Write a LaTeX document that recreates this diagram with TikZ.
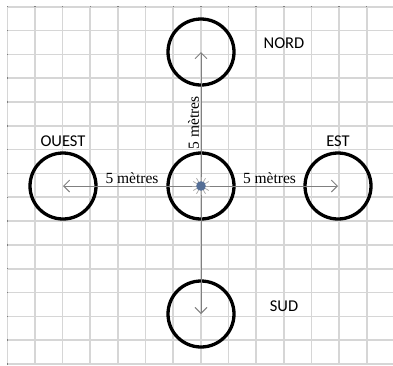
\documentclass[tikz,border=0pt]{standalone}
\usepackage{fontspec}
\setmainfont{Liberation Serif}
\newfontfamily\calibri{Carlito}
\usetikzlibrary{arrows.meta,positioning}
\definecolor{gridgris}{RGB}{214,214,214}
\definecolor{flechegris}{RGB}{128,128,128}
\definecolor{pointbleu}{RGB}{84,110,150}
\tikzset{
  cercle/.style={draw=black, circle, line width=3.3pt, minimum size=66pt, inner sep=0pt},
  fleche/.style={->, draw=flechegris, line width=0.9pt},
  mesure/.style={font=\fontsize{15.5}{18}\selectfont, inner sep=1.5pt},
  direction/.style={font=\calibri\fontsize{16.5}{19}\selectfont, inner sep=0pt}
}
\begin{document}
\begin{tikzpicture}[x=1pt, y=-1pt, >={Straight Barb[length=6pt,width=12pt]}]
    \useasboundingbox (0,0) rectangle (393,365);
    \fill[white] (0,0) rectangle (393,365);
    % quadrillage
    \foreach \i in {0,...,15}
        \draw[gridgris, line width=1.6pt] (7.3,6.7+23.82*\i) -- (393,6.7+23.82*\i);
    \foreach \i in {0,...,13}
        \draw[gridgris, line width=1.6pt] (7.3+27.65*\i,6.7) -- (7.3+27.65*\i,365);
    \foreach \i in {0,...,15}
        \fill[gray] (6.6,6+23.82*\i) rectangle (8,7.4+23.82*\i);
    \foreach \i in {1,...,13}
        \fill[gray] (6.6+27.65*\i,6) rectangle (8+27.65*\i,7.4);

    % cercles
    \node[cercle] (centre) at (201,186) {};
    \node[cercle] (nord) at (201,52) {};
    \node[cercle] (sud) at (201,314) {};
    \node[cercle] (ouest) at (63,186) {};
    \node[cercle] (est) at (338,186) {};

    % fleches
    \draw[fleche] (centre.center) -- node[mesure, above, sloped, pos=0.47] {5 mètres} (nord.center);
    \draw[fleche] (centre.center) -- (sud.center);
    \draw[fleche] (centre.center) -- node[mesure, above] {5 mètres} (ouest.center);
    \draw[fleche] (centre.center) -- node[mesure, above] {5 mètres} (est.center);

    % point central
    \foreach \a in {0,30,...,330}
        \draw[flechegris!70, line width=0.7pt] (centre.center) -- ++(\a:9pt);
    \fill[pointbleu] (centre.center) circle (4.8pt);

    % noms
    \node[direction] (lnord) at (284,43) {NORD};
    \node[direction] (lsud) at (284,306) {SUD};
    \node[direction, above=5pt of ouest] (louest) {OUEST};
    \node[direction, above=5pt of est] (lest) {EST};
\end{tikzpicture}
\end{document}
